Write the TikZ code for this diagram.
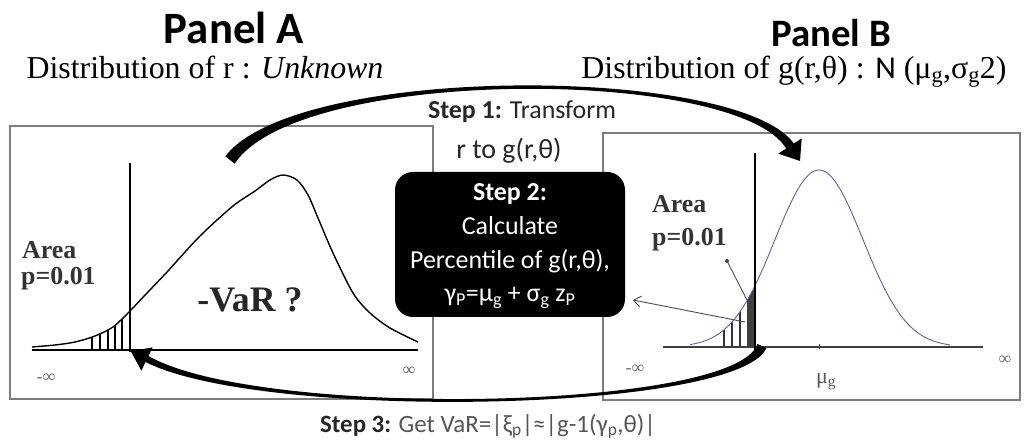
\documentclass[tikz,border=0pt]{standalone}
\usepackage{fontspec}
\setmainfont{Liberation Serif}
\newfontfamily\calib{Carlito}
\usetikzlibrary{arrows.meta}
\definecolor{panelgray}{RGB}{125,125,125}
\definecolor{bluecurve}{RGB}{95,95,165}
\definecolor{txtgray}{RGB}{85,85,85}
\definecolor{lightgray}{RGB}{110,110,110}
\begin{document}
\begin{tikzpicture}[x=1bp,y=-1bp,
  panel/.style={draw=panelgray, line width=1.3bp},
  ptitle/.style={font=\calib\bfseries\fontsize{45}{50}\selectfont, inner sep=0},
  psub/.style={font=\fontsize{32}{34}\selectfont, inner sep=0, anchor=base},
  arealab/.style={font=\bfseries\fontsize{26}{26}\selectfont, anchor=base west, inner sep=0, text=black!80},
  inflab/.style={font=\fontsize{18}{18}\selectfont, text=lightgray, inner sep=0},
  steplab/.style={font=\calib\fontsize{26}{34}\selectfont, inner sep=0, anchor=base},
  curvedarrow/.style={fill=black},
  pointer/.style={draw=black!70, line width=0.9bp}
]
\useasboundingbox (0,0) rectangle (1024,445);

% titles
\node[ptitle] (titleA) at (234,28) {Panel A};
\node[ptitle, font=\calib\bfseries\fontsize{39}{44}\selectfont] (titleB) at (831,33) {Panel B};
\node[psub] (subA) at (205,79) {Distribution of r : \textit{Unknown}};
\node[psub] (subB) at (794,79) {Distribution of g(r,θ) : {\calib N} (μ\textsubscript{g},σ\textsubscript{g}2)};

% panel boxes
\draw[panel] (10,126) rectangle (433,399);
\draw[panel] (603,133) rectangle (1020,400);

% ---------- Panel A ----------
\begin{scope}
  \clip plot[smooth] coordinates {(32,347) (55,345) (75,342) (95,336) (113,327) (129,312) (147,293)} -- (147,350) -- (32,350) -- cycle;
  \foreach \hx in {92,100,108,115,122} \draw[line width=1.6bp] (\hx,352) -- (\hx,280);
\end{scope}
\draw[line width=1.4bp] plot[smooth] coordinates {(32,347) (55,345) (75,342) (95,336) (113,327) (129,312) (147,293) (167,272) (200,236) (233,206) (255,191) (270,180) (283,175) (297,180) (308,195) (318,218) (333,253) (353,293) (370,313) (390,328) (418,342)};
\draw[line width=1.2bp] (32,350) -- (418,350);
\draw[line width=1.5bp] (130,163) -- (130,352);
\node[arealab] (areaA1) at (22,259) {Area};
\node[arealab] (areaA2) at (21,285) {p=0.01};
\node[font=\bfseries\fontsize{36}{36}\selectfont, inner sep=0, text=black!85] (varA) at (250,300) {-VaR ?};
\node[inflab] (minfA) at (46,378) {-∞};
\node[inflab] (infA) at (409,371) {∞};

% ---------- Panel B ----------
\begin{scope}
  \clip plot[domain=690:757, samples=60] (\x, {347-177*exp(-0.5*((\x-819)/44)^2)}) -- (757,347) -- (690,347) -- cycle;
  \foreach \hx in {724,732,740} \draw[line width=1.8bp, black!80] (\hx,347) -- (\hx,300);
  \fill[black!75] (747,290) rectangle (756,347);
\end{scope}
\draw[bluecurve, line width=0.9bp] plot[domain=690:950, samples=120, smooth] (\x, {347-177*exp(-0.5*((\x-819)/44)^2)});
\draw[black!75, line width=1.2bp] (663,347) -- (983,347);
\draw[black!75] (819,344) -- (819,349);
\draw[line width=2.6bp] (755,153) -- (755,350);
\node[arealab] (areaB1) at (652,213) {Area};
\node[arealab] (areaB2) at (652,246) {p=0.01};
\node[inflab] (minfB) at (635,369) {-∞};
\node[inflab] (infB) at (1005,360) {∞};
\node[font=\fontsize{22}{22}\selectfont, inner sep=0, text=txtgray] (muB) at (826,382) {μ\textsubscript{g}};
\coordinate (ptrdot) at (727,261);
\coordinate (ptrend) at (747,300);
\fill[black!75] (ptrdot) circle (2bp);
\draw[pointer] (ptrdot) -- (ptrend);

% ---------- Step 2 box ----------
\node[fill=black, rounded corners=18bp, minimum width=230bp, minimum height=145bp, inner sep=0] (step2) at (510,244.5) {};
\node[steplab, text=white, align=center, anchor=center] (step2txt) at (510,246) {\textbf{Step 2:}\\Calculate\\Percentile of g(r,θ),\\γ\textsubscript{P}=μ\textsubscript{g} + σ\textsubscript{g} z\textsubscript{P}};
\coordinate (ptrstart) at (745,322);
\coordinate (ptrtip) at (633,300);
\draw[pointer, -{Straight Barb[length=7bp,width=11bp]}] (ptrstart) -- (ptrtip);

% ---------- Step 1 ----------
\node[steplab, text=black!85] (step1a) at (522,119) {\textbf{Step 1:} Transform};
\node[steplab, text=black!85, font=\calib\fontsize{28}{34}\selectfont] (step1b) at (509,159) {r to g(r,θ)};

% top curved arrow A -> B
\fill[curvedarrow] (225.3,156.3) .. controls (297,63) and (738,65) .. (793.8,143.5)
  -- (801.7,138.4) -- (800,161) -- (778.3,153.6) -- (786.2,148.5)
  .. controls (736,67) and (299,66) .. (234.7,163.7) -- cycle;

% bottom curved arrow B -> A
\fill[curvedarrow] (766.5,348) .. controls (737,413) and (262,421) .. (145.5,362)
  -- (141.4,370.7) -- (130.8,351.3) -- (152.6,347.3) -- (148.5,356)
  .. controls (258,419) and (735,411) .. (757.5,344) -- cycle;

% ---------- Step 3 ----------
\node[steplab, text=txtgray, font=\calib\fontsize{25}{30}\selectfont] (step3) at (488,432) {{\color{black!85}\textbf{Step 3:}} Get VaR=|ξ\textsubscript{p}|≈|g-1(γ\textsubscript{p},θ)|};
\end{tikzpicture}
\end{document}
